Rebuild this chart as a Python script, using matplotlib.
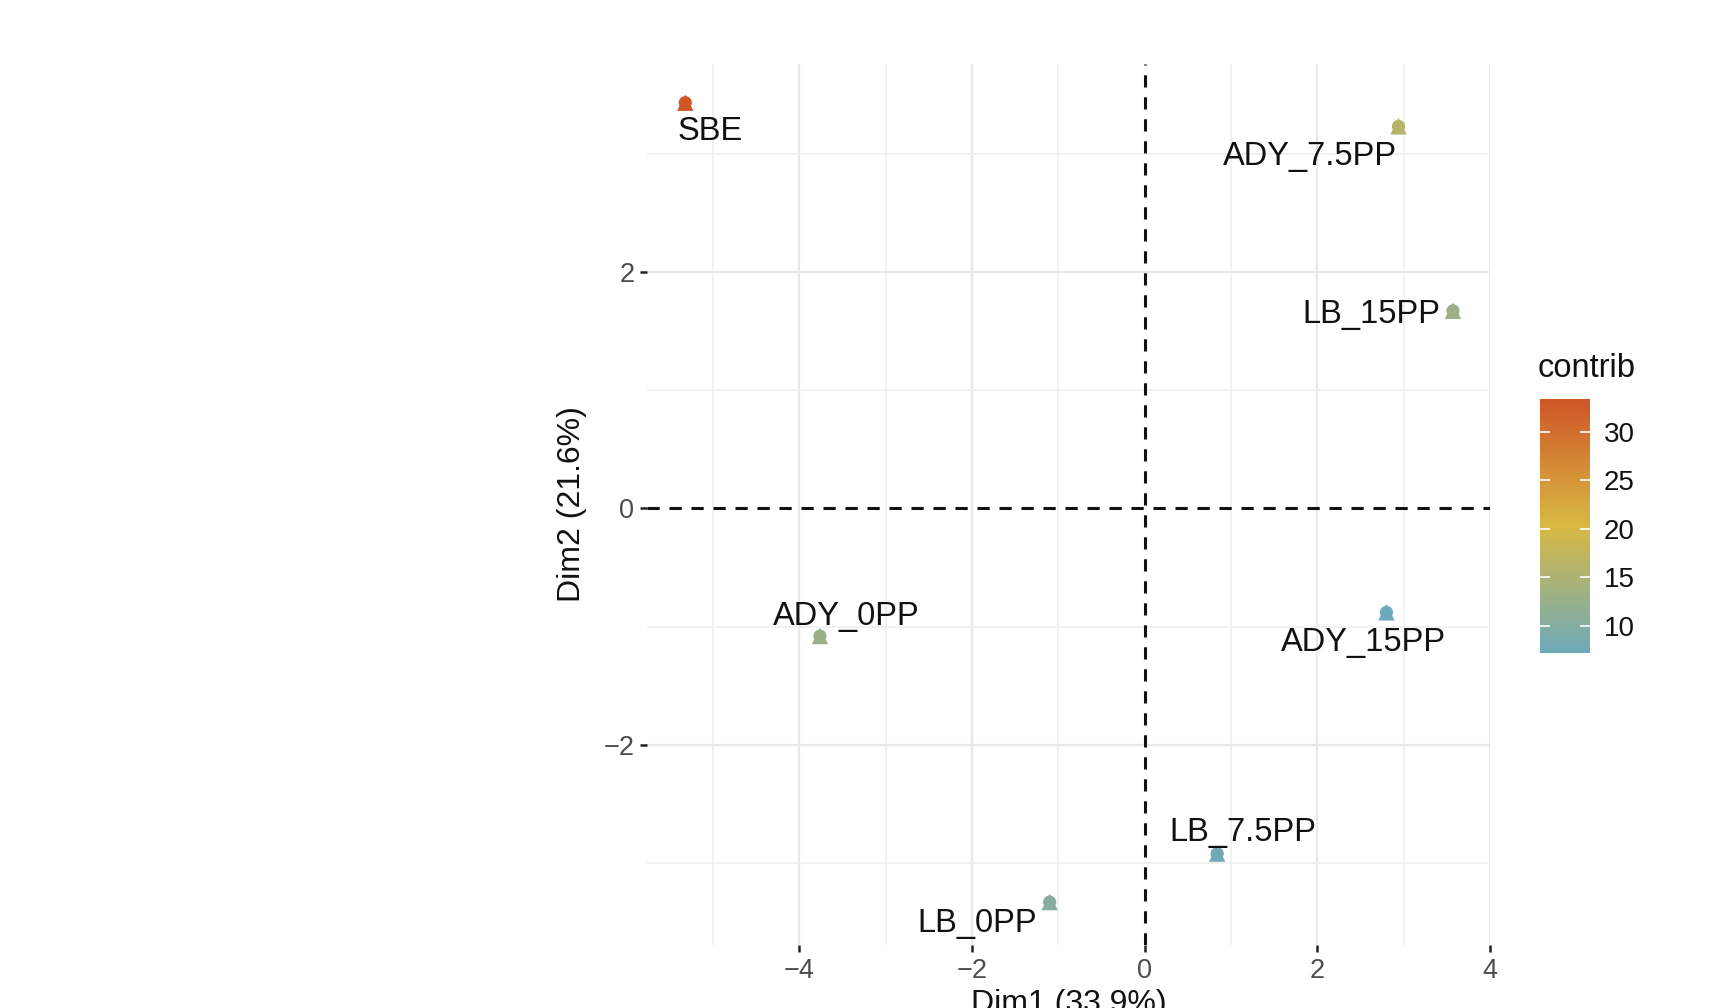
import matplotlib
matplotlib.use('Agg')
import matplotlib.pyplot as plt
from matplotlib.colors import LinearSegmentedColormap, Normalize

plt.rcParams['font.family'] = ['Liberation Sans', 'DejaVu Sans']

# individuals on the first two PCA dimensions
names = ['SBE', 'ADY_7.5PP', 'LB_15PP', 'ADY_0PP', 'ADY_15PP', 'LB_7.5PP', 'LB_0PP']
dim1 = [-5.32, 2.94, 3.57, -3.76, 2.80, 0.84, -1.10]
dim2 = [3.43, 3.23, 1.67, -1.08, -0.88, -2.92, -3.33]
contrib = [33.4, 15.9, 12.9, 12.7, 7.2, 7.7, 10.2]

# where the repelled labels ended up, relative to the point (data units)
label_dx = [0.285, -1.02, -0.95, 0.30, -0.27, 0.30, -0.84]
label_dy = [-0.245, -0.255, -0.035, 0.165, -0.255, 0.175, -0.185]

cmap = LinearSegmentedColormap.from_list('contrib', ['#6eaabb', '#d8b943', '#cf5627'])
norm = Normalize(vmin=min(contrib), vmax=max(contrib))

fig = plt.figure(figsize=(17.29, 10.08), dpi=100)
ax = fig.add_axes([0.3742, 0.0625, 0.4876, 0.874])

ax.set_xlim(-5.763, 3.999)
ax.set_ylim(-3.693, 3.757)

for x in [-5, -3, -1, 1, 3]:
    ax.axvline(x, color='#efefef', lw=1.2, zorder=0)
for x in [-4, -2, 2, 4]:
    ax.axvline(x, color='#e8e8e8', lw=1.6, zorder=0)
for y in [-3, -1, 1, 3]:
    ax.axhline(y, color='#efefef', lw=1.2, zorder=0)
for y in [-2, 2]:
    ax.axhline(y, color='#e8e8e8', lw=1.6, zorder=0)

ax.axhline(0, color='#111111', lw=2.2, ls=(0, (4, 3.2)), zorder=1)
ax.axvline(0, color='#111111', lw=2.2, ls=(0, (4, 3.2)), zorder=1)

cols = [cmap(norm(c)) for c in contrib]
ax.scatter(dim1, dim2, s=90, c=cols, marker='o', linewidths=0, zorder=3)
ax.scatter(dim1, dim2, s=140, c=cols, marker='^', linewidths=0, zorder=3)

for n, x, y, dx, dy in zip(names, dim1, dim2, label_dx, label_dy):
    ax.text(x + dx, y + dy, n, ha='center', va='center', fontsize=23.5, color='#111111', zorder=4)

for s in ax.spines.values():
    s.set_visible(False)

ax.set_xticks([-4, -2, 0, 2, 4])
ax.set_yticks([-2, 0, 2])
ax.set_xticklabels(['\u22124', '\u22122', '0', '2', '4'])
ax.set_yticklabels(['\u22122', '0', '2'])
ax.tick_params(axis='both', labelsize=19.5, labelcolor='#4d4d4d', color='#222222',
               length=5, width=1.8, pad=4)

ax.set_ylabel('Dim2 (21.6%)', fontsize=23, color='#111111', labelpad=12)
ax.set_xlabel('Dim1 (33.9%)', fontsize=23, color='#111111')
ax.xaxis.set_label_coords(0.5, -0.05)

cax = fig.add_axes([0.8907, 0.3522, 0.0289, 0.252])
sm = plt.cm.ScalarMappable(norm=norm, cmap=cmap)
cb = fig.colorbar(sm, cax=cax, ticks=[10, 15, 20, 25, 30])
cb.outline.set_visible(False)
cax.tick_params(left=True, right=True, direction='in', color='white', length=7, width=1.2,
                labelsize=20, labelcolor='#111111', pad=10)
fig.text(0.8895, 0.634, 'contrib', fontsize=23.5, color='#111111', ha='left', va='center')

fig.savefig('out.png', dpi=100)
